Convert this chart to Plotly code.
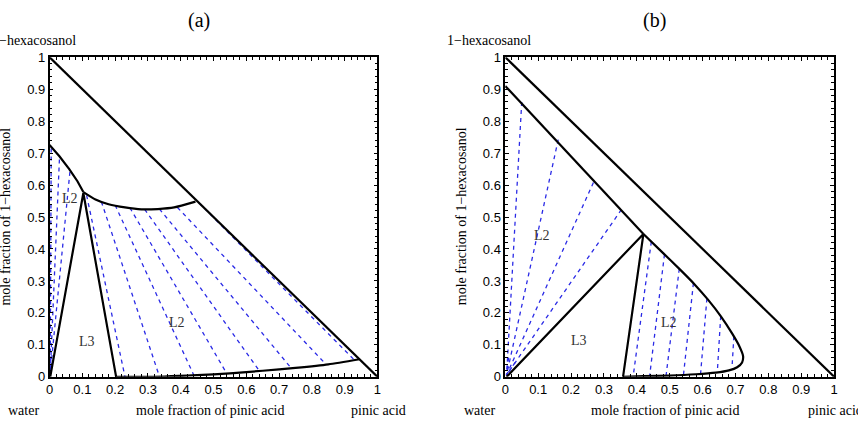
import plotly.graph_objects as go

# ---------------- data: panel (a) ----------------
a_diag_x = [0.0, 1.0]
a_diag_y = [1.0, 0.0]
# upper binodal: left branch and dip curve
a_left_x = [0.0, 0.03, 0.06, 0.085, 0.103]
a_left_y = [0.725, 0.69, 0.65, 0.612, 0.578]
a_curve_x = [0.103, 0.14, 0.18, 0.23, 0.28, 0.33, 0.38, 0.445]
a_curve_y = [0.578, 0.555, 0.54, 0.53, 0.524, 0.525, 0.53, 0.548]
# lower binodal near pinic acid axis
a_lower_x = [0.203, 0.35, 0.45, 0.55, 0.65, 0.75, 0.85, 0.945]
a_lower_y = [0.0, 0.001, 0.005, 0.011, 0.019, 0.028, 0.039, 0.055]
# L3 triangle edges
a_l3_x = [0.002, 0.103, 0.203]
a_l3_y = [0.0, 0.575, 0.0]
# tie lines left L2 region
a_tl_top_x = [0.005, 0.03, 0.062]
a_tl_top_y = [0.714, 0.68, 0.641]
a_tl_bot_x = [0.002, 0.002, 0.002]
a_tl_bot_y = [0.01, 0.01, 0.01]
# tie lines right L2 region
a_tr_top_x = [0.113, 0.158, 0.2, 0.245, 0.29, 0.335, 0.39, 0.455]
a_tr_top_y = [0.568, 0.548, 0.537, 0.529, 0.524, 0.525, 0.53, 0.545]
a_tr_bot_x = [0.23, 0.335, 0.44, 0.54, 0.64, 0.737, 0.843, 0.93]
a_tr_bot_y = [0.0, 0.001, 0.005, 0.011, 0.018, 0.027, 0.039, 0.052]

# ---------------- data: panel (b) ----------------
b_diag_x = [0.0, 1.0]
b_diag_y = [1.0, 0.0]
b_left_x = [0.0, 0.42]
b_left_y = [0.91, 0.447]
b_curve_x = [0.42, 0.48, 0.53, 0.575, 0.615, 0.655, 0.69, 0.712, 0.723, 0.72, 0.705, 0.68, 0.64, 0.58, 0.5, 0.42, 0.358]
b_curve_y = [0.447, 0.387, 0.337, 0.29, 0.243, 0.19, 0.135, 0.095, 0.065, 0.045, 0.03, 0.02, 0.013, 0.008, 0.004, 0.002, 0.0]
b_l3_x = [0.004, 0.42, 0.358]
b_l3_y = [0.0, 0.447, 0.0]
b_tl_top_x = [0.05, 0.161, 0.268, 0.353, 0.01, 0.03]
b_tl_top_y = [0.86, 0.742, 0.608, 0.523, 0.06, 0.045]
b_tl_bot_x = [0.004, 0.004, 0.004, 0.004, 0.003, 0.003]
b_tl_bot_y = [0.006, 0.006, 0.006, 0.006, 0.004, 0.004]
b_tr_top_x = [0.444, 0.484, 0.529, 0.572, 0.613, 0.655, 0.695]
b_tr_top_y = [0.423, 0.383, 0.338, 0.293, 0.245, 0.19, 0.127]
b_tr_bot_x = [0.389, 0.439, 0.489, 0.542, 0.594, 0.645, 0.69]
b_tr_bot_y = [0.003, 0.004, 0.005, 0.008, 0.012, 0.02, 0.04]

tick_vals = [0, 0.1, 0.2, 0.3, 0.4, 0.5, 0.6, 0.7, 0.8, 0.9, 1]
tick_text = ["0", "0.1", "0.2", "0.3", "0.4", "0.5", "0.6", "0.7", "0.8", "0.9", "1"]

panels = [
    dict(title="(a)", diag=(a_diag_x, a_diag_y), left=(a_left_x, a_left_y),
         curves=[(a_curve_x, a_curve_y), (a_lower_x, a_lower_y)], l3=(a_l3_x, a_l3_y),
         ties=[(a_tl_top_x, a_tl_top_y, a_tl_bot_x, a_tl_bot_y),
               (a_tr_top_x, a_tr_top_y, a_tr_bot_x, a_tr_bot_y)],
         labels=[("L2", 0.062, 0.558), ("L3", 0.113, 0.11), ("L2", 0.39, 0.17)]),
    dict(title="(b)", diag=(b_diag_x, b_diag_y), left=(b_left_x, b_left_y),
         curves=[(b_curve_x, b_curve_y)], l3=(b_l3_x, b_l3_y),
         ties=[(b_tl_top_x, b_tl_top_y, b_tl_bot_x, b_tl_bot_y),
               (b_tr_top_x, b_tr_top_y, b_tr_bot_x, b_tr_bot_y)],
         labels=[("L2", 0.113, 0.442), ("L3", 0.223, 0.115), ("L2", 0.499, 0.17)]),
]

W, H = 858, 436
px_left = [46, 506]
px_right = [377, 838]
px_top, px_bot = 52, 383

fig = go.Figure()
SERIF = "Liberation Serif, Times New Roman, serif"
SANS = "Liberation Sans, Arial, sans-serif"


def pxx(v):
    return v / W


def pxy(v):
    return 1 - v / H


annotations = []
for i, p in enumerate(panels):
    xa = "x" if i == 0 else "x2"
    ya = "y" if i == 0 else "y2"
    for tx, ty, bx, by in p["ties"]:
        xs, ys = [], []
        for a, b, c, d in zip(tx, ty, bx, by):
            xs += [a, c, None]
            ys += [b, d, None]
        fig.add_trace(go.Scatter(x=xs, y=ys, mode="lines", xaxis=xa, yaxis=ya,
                                 line=dict(color="#2a2ae6", width=1.3, dash="4px,4px"),
                                 showlegend=False, hoverinfo="skip"))
    blk = dict(color="black", width=2.2)
    for xs, ys in [p["diag"], p["left"], p["l3"]]:
        fig.add_trace(go.Scatter(x=xs, y=ys, mode="lines", xaxis=xa, yaxis=ya,
                                 line=blk, showlegend=False))
    for xs, ys in p["curves"]:
        fig.add_trace(go.Scatter(x=xs, y=ys, mode="lines", xaxis=xa, yaxis=ya,
                                 line=dict(color="black", width=2.2, shape="spline", smoothing=0.6),
                                 showlegend=False))
    for t, lx, ly in p["labels"]:
        annotations.append(dict(text=t, x=lx, y=ly, xref=xa, yref=ya, showarrow=False,
                                xanchor="center", yanchor="middle",
                                font=dict(family=SERIF, size=14, color="#333333")))

    L, R = px_left[i], px_right[i]
    base = dict(xref="paper", yref="paper", showarrow=False, xanchor="center", yanchor="middle")
    annotations += [
        dict(text=p["title"], x=pxx(L + 151), y=pxy(14),
             font=dict(family=SERIF, size=20, color="black"), **base),
        dict(text="1\u2212hexacosanol", x=pxx(L - 16), y=pxy(35),
             font=dict(family=SERIF, size=14, color="black"), **base),
        dict(text="water", x=pxx(L - 26), y=pxy(418),
             font=dict(family=SERIF, size=14, color="black"), **base),
        dict(text="mole fraction of pinic acid", x=pxx(L + 162), y=pxy(418),
             font=dict(family=SERIF, size=14, color="black"), **base),
        dict(text="pinic acid", x=pxx(R + 1), y=pxy(418),
             font=dict(family=SERIF, size=14, color="black"), **base),
        dict(text="mole fraction of 1\u2212hexacosanol", x=pxx(L - 44), y=pxy(217),
             textangle=-90, font=dict(family=SERIF, size=14, color="black"), **base),
    ]

axis_common = dict(range=[0, 1], tickvals=tick_vals, ticktext=tick_text,
                   ticks="inside", ticklen=4, tickwidth=1, tickcolor="black",
                   showline=True, linecolor="black", linewidth=1.5, mirror="allticks",
                   showgrid=False, zeroline=False, fixedrange=True,
                   tickfont=dict(family=SANS, size=13, color="black"),
                   minor=dict(ticks="inside", ticklen=3, dtick=0.02, tickcolor="black",
                              tickwidth=1, showgrid=False))

fig.update_layout(
    width=W, height=H, margin=dict(l=0, r=0, t=0, b=0),
    paper_bgcolor="white", plot_bgcolor="white",
    xaxis=dict(domain=[px_left[0] / W, px_right[0] / W], anchor="y", **axis_common),
    yaxis=dict(domain=[1 - px_bot / H, 1 - px_top / H], anchor="x", **axis_common),
    xaxis2=dict(domain=[px_left[1] / W, px_right[1] / W], anchor="y2", **axis_common),
    yaxis2=dict(domain=[1 - px_bot / H, 1 - px_top / H], anchor="x2", **axis_common),
    annotations=annotations,
    showlegend=False,
)

fig.write_html("out.html")
